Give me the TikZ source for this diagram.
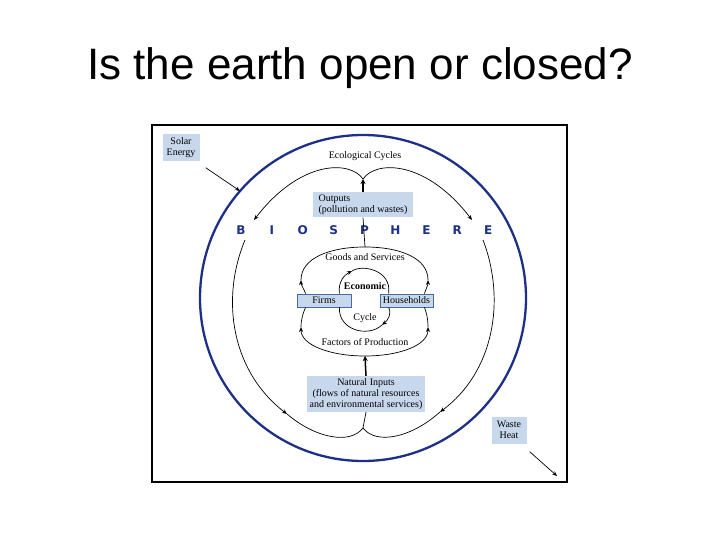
\documentclass[tikz,border=0pt]{standalone}
\usepackage{fontspec}
\setmainfont{Liberation Serif}
\newfontfamily\titlefont{Liberation Sans}
\newfontfamily\heavyfont{DejaVu Sans}
\usetikzlibrary{arrows.meta,positioning}
\definecolor{bc}{RGB}{200,216,236}
\definecolor{bd}{RGB}{70,105,160}
\definecolor{bioc}{RGB}{28,48,135}
\newcommand\dtxt{\fontsize{10}{11}\selectfont}
\newcommand\biofont{\heavyfont\bfseries\fontsize{12}{12}\selectfont}
\tikzset{bx/.style={fill=bc,inner sep=2pt,font=\dtxt},
 fb/.style={bx,draw=bd,line width=.8pt,minimum width=54pt,minimum height=13pt,inner sep=0pt},
 lbl/.style={font=\dtxt,inner sep=1pt},
 ln/.style={line width=.7pt},
 sa/.style={ln,-{Stealth[length=5pt,width=4pt]}},
 ta/.style={line width=1.5pt,-{Stealth[length=5pt,width=5pt]}},
 bio/.style={text=bioc,font=\biofont,inner sep=0pt},
 ring/.style={draw=bioc,line width=2.3pt}}
\begin{document}
\begin{tikzpicture}[x=1pt,y=-1pt]
\useasboundingbox (0,0) rectangle (720,540);
\node[font=\titlefont\fontsize{44}{44}\selectfont] (title) at (360,68) {Is the earth open or closed?};
\draw[line width=2.5pt] (152,125) rectangle (567,482);
\draw[ring] (363,298) circle (163);
% biosphere letters
\foreach \l [count=\i from 0] in {B,I,O,S,P,H,E,R,E}
  \node[bio] (b\i) at (241+30.9*\i,230) {\l};
% boxes
\node[bx,align=left,minimum width=100pt,minimum height=25pt] (out) at (363,205) {Outputs\\(pollution and wastes)};
\node[bx,align=center,minimum width=118pt,minimum height=36pt] (nat) at (366,394) {Natural Inputs\\(flows of natural resources\\and environmental services)};
\node[bx,align=center,minimum width=37pt,minimum height=27pt] (sol) at (181,148) {Solar\\Energy};
\node[bx,align=center,minimum width=35pt,minimum height=27pt] (wh) at (509,430) {Waste\\Heat};
\node[fb] (firm) at (324,300.5) {Firms};
\node[fb,minimum width=53pt] (hh) at (406.5,300.5) {Households};
% labels
\node[lbl] (eco) at (365,156) {Ecological Cycles};
\node[lbl] (gs) at (365,257) {Goods and Services};
\node[lbl,font=\dtxt\bfseries] (ec) at (365,286) {Economic};
\node[lbl] (cy) at (365,318) {Cycle};
\node[lbl] (fp) at (365,342) {Factors of Production};
% ecological cycle
\coordinate (ectop) at (363,179);
\coordinate (ecbot) at (363,428);
\coordinate (tl) at (254,220);
\coordinate (tr) at (472,220);
\coordinate (ml) at (245,240);
\coordinate (mr) at (483,240);
\coordinate (nl) at (287,414);
\coordinate (nr) at (440,412);
\draw[ta] (out.north) -- (ectop);
\draw[sa] (ectop) .. controls (350,160) and (300,160) .. (tl);
\draw[sa] (ectop) .. controls (376,160) and (426,160) .. (tr);
\draw[sa] (ml) .. controls (220,300) and (232,372) .. (nl);
\draw[sa] (mr) .. controls (506,300) and (494,372) .. (nr);
\draw[ln] (nl) .. controls (315,438) and (350,445) .. (ecbot);
\draw[ln] (nr) .. controls (411,438) and (376,445) .. (ecbot);
\draw[ln] (nat.south) -- (ecbot);
% economy
\coordinate (gtop) at (365,247);
\coordinate (pbot) at (365,356);
\coordinate (gl) at (301,280);
\coordinate (gr) at (428,280);
\coordinate (fl) at (301,327);
\coordinate (fr) at (428,327);
\draw[ln] (out.south) -- (gtop);
\draw[sa] ([xshift=9pt]firm.north west) .. controls (304,289) and (301,285) .. (gl);
\draw[ln] (gl) .. controls (301,258) and (330,247) .. (gtop) .. controls (400,247) and (428,258) .. (gr);
\draw[sa] ([xshift=-9pt]hh.north east) .. controls (426,289) and (428,285) .. (gr);
\draw[sa] (pbot) .. controls (330,356) and (301,345) .. (fl);
\draw[ln] (fl) .. controls (301,318) and (304,311) .. ([xshift=9pt]firm.south west);
\draw[sa] (pbot) .. controls (400,356) and (428,345) .. (fr);
\draw[ln] (fr) .. controls (428,318) and (426,311) .. ([xshift=-9pt]hh.south east);
\draw[ta] (nat.north) -- (pbot);
% inner cycle
\coordinate (ea) at (352,271);
\coordinate (eb) at (382,325);
\draw[sa] ([xshift=-12pt]firm.north east) .. controls (338,282) and (344,275) .. (ea);
\draw[ln] (ea) .. controls (362,264) and (392,270) .. ([xshift=9pt]hh.north west);
\draw[sa] ([xshift=9pt]hh.south west) .. controls (392,314) and (388,320) .. (eb);
\draw[ln] (eb) .. controls (368,338) and (338,330) .. ([xshift=-12pt]firm.south east);
% energy in and out
\coordinate (solin) at (240,191);
\coordinate (whout) at (557,476);
\draw[sa] ([shift={(6pt,-6pt)}]sol.south east) -- (solin);
\draw[sa] ([shift={(3pt,-8pt)}]wh.south east) -- (whout);
\end{tikzpicture}
\end{document}
